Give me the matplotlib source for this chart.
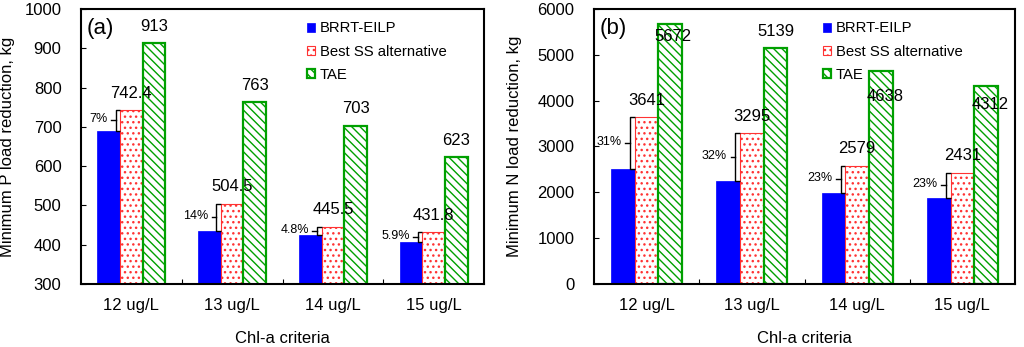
import numpy as np
from matplotlib import pyplot as plt

plt.rcParams['font.family'] = ['Liberation Sans', 'DejaVu Sans']
plt.rcParams['hatch.linewidth'] = 1.0

# ##########################
# Data
# ##########################

criteria = ['12 ug/L', '13 ug/L', '14 ug/L', '15 ug/L']
series = ['BRRT-EILP', 'Best SS alternative', 'TAE']

p_brrt = [690, 434, 424, 406]
p_best = [742.4, 504.5, 445.5, 431.8]
p_tae = [913, 763, 703, 623]
p_pct = ['7%', '14%', '4.8%', '5.9%']

n_brrt = [2512, 2241, 1986, 1872]
n_best = [3641, 3295, 2579, 2431]
n_tae = [5672, 5139, 4638, 4312]
n_pct = ['31%', '32%', '23%', '23%']

# label offsets (points) for TAE values in panel b, some sit inside the bar
n_tae_dx = [2, 0, 3, 3]
n_tae_dy = [-9, 12.5, -18, -13]

blue = '#0000ff'
red = '#ff3333'
green = '#00a000'

fig = plt.figure(figsize=(10.24, 3.47), dpi=100)
axA = fig.add_axes([0.0791, 0.1816, 0.3936, 0.7925])
axB = fig.add_axes([0.5801, 0.1816, 0.4111, 0.7925])


def draw_panel(ax, brrt, best, tae, pct, tag, ylabel, ylim, ystep,
               legx, tae_dx, tae_dy, hook):
    x = np.arange(len(criteria))
    w = 0.225
    ax.bar(x - w, brrt, w, bottom=0, color=blue, edgecolor=blue,
           linewidth=0.5, label=series[0], zorder=2)
    ax.bar(x, best, w, color='white', edgecolor=red, hatch='...',
           linewidth=0.8, label=series[1], zorder=2)
    ax.bar(x + w, tae, w, color='white', edgecolor=green,
           hatch='\\\\\\\\', linewidth=1.6, label=series[2], zorder=2)

    for i in range(len(x)):
        ax.annotate('{:g}'.format(best[i]), xy=(x[i], best[i]), xytext=(0, 12.2),
                    textcoords='offset points', ha='center', va='center',
                    fontsize=12, zorder=5)
        ax.annotate('{:g}'.format(tae[i]), xy=(x[i] + w, tae[i]),
                    xytext=(tae_dx[i], tae_dy[i]), textcoords='offset points',
                    ha='center', va='center', fontsize=12, zorder=5)

        # brace between blue and red bar tops
        bx = x[i] - w / 2 - hook
        lo, hi = brrt[i], best[i]
        mid = (lo + hi) / 2
        ax.plot([bx + hook, bx, bx, bx + hook], [hi, hi, lo, lo],
                color='black', lw=1.0, zorder=4, solid_capstyle='butt')
        ax.plot([bx, bx - hook], [mid, mid], color='black', lw=1.0, zorder=4)
        ax.annotate(pct[i], xy=(bx - hook, mid), xytext=(-2.5, 1),
                    textcoords='offset points', ha='right', va='center',
                    fontsize=9, zorder=5)

    ax.set_xlim(-0.5, len(x) - 0.5)
    ax.set_ylim(*ylim)
    ax.set_yticks(np.arange(ylim[0], ylim[1] + 1, ystep))
    ax.set_xticks(x)
    ax.set_xticklabels(criteria)
    ax.set_xticks(x[:-1] + 0.5, minor=True)
    ax.tick_params(axis='x', which='major', length=0, pad=10, labelsize=12)
    ax.tick_params(axis='x', which='minor', direction='in', length=3.5, width=0.8)
    ax.tick_params(axis='y', direction='in', length=3.5, width=0.8, pad=14,
                   labelsize=12)
    for s in ax.spines.values():
        s.set_linewidth(1.5)

    ax.set_xlabel('Chl-a criteria', fontsize=12, labelpad=13)
    ax.set_ylabel(ylabel, fontsize=12)
    ax.text(0.013, 0.93, tag, transform=ax.transAxes, fontsize=16,
            ha='left', va='center')

    ax.legend(loc='upper left', bbox_to_anchor=(legx, 0.955), frameon=False,
              fontsize=10.7, handlelength=0.55, handleheight=0.55,
              handletextpad=0.3, labelspacing=0.62, borderpad=0,
              borderaxespad=0)


draw_panel(axA, p_brrt, p_best, p_tae, p_pct, '(a)',
           'Minimum P load reduction, kg', (300, 1000), 100, 0.561,
           [0, 0, 0, 0], [12.2, 12.2, 12.2, 12.2], 0.045)
draw_panel(axB, n_brrt, n_best, n_tae, n_pct, '(b)',
           'Minimum N load reduction, kg', (0, 6000), 1000, 0.544,
           n_tae_dx, n_tae_dy, 0.045)

axA.yaxis.set_label_coords(-0.164, 0.5)
axB.yaxis.set_label_coords(-0.171, 0.5)

plt.savefig('out.png', dpi=100)
